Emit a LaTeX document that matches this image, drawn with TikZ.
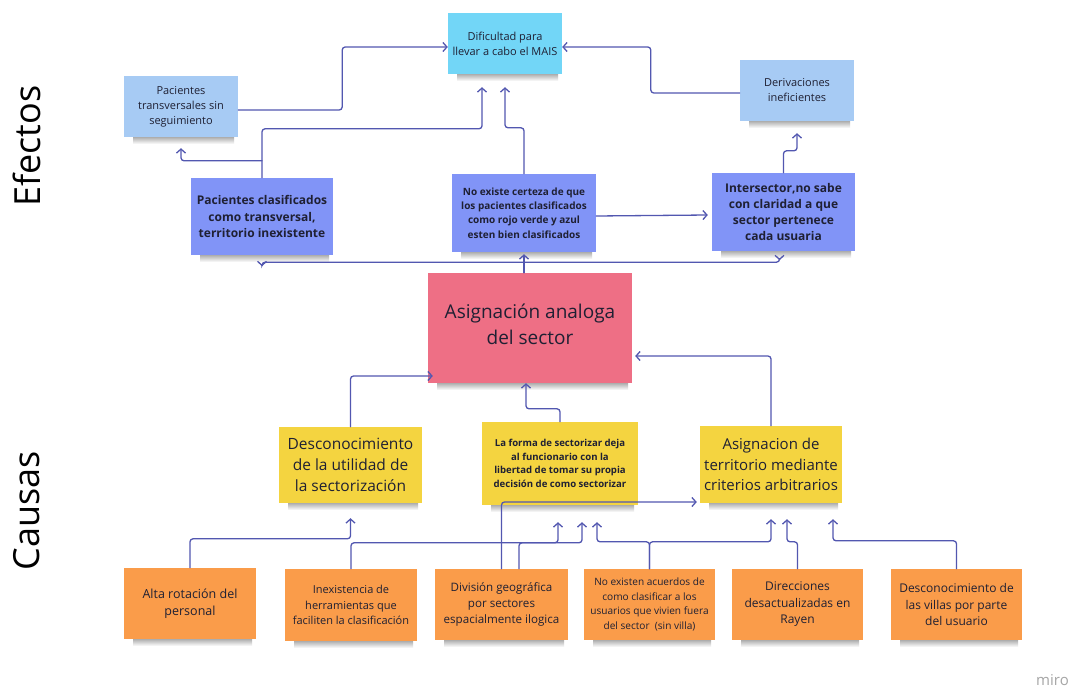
\documentclass[tikz,border=0pt]{standalone}
\usepackage{fontspec}
\setmainfont{Open Sans}
\usetikzlibrary{arrows.meta}
\definecolor{cyanc}{HTML}{72D6F7}
\definecolor{lblue}{HTML}{A7CBF4}
\definecolor{peri}{HTML}{8194F7}
\definecolor{pinkc}{HTML}{EE6F85}
\definecolor{yell}{HTML}{F4D440}
\definecolor{oran}{HTML}{FA9C4A}
\definecolor{arrowc}{HTML}{5257B0}
\definecolor{txt}{HTML}{1F2033}
\newcommand{\stickynote}[7]{%
  \shade[top color=black!32, bottom color=white] ({#2+9},{-#5}) rectangle ({#4-4},{-#5-7});
  \node[note, #6, minimum width={(#4-#2)*1pt}, minimum height={(#5-#3)*1pt}] (#1) at ({(#2+#4)/2},{-(#3+#5)/2}) {#7};
}
\begin{document}
\begin{tikzpicture}[x=1pt,y=1pt,
  note/.style={rectangle, inner sep=0pt, align=center, text=txt},
  conn/.style={draw=arrowc, line width=1.3pt, rounded corners=3pt, line cap=round},
  arr/.style={conn, -{Straight Barb[length=4pt,width=9pt]}},
  side/.style={rotate=90, text=black, font=\fontsize{36}{40}\selectfont}]
\useasboundingbox (0,0) rectangle (1072,-690);
\fill[white] (0,0) rectangle (1072,-690);

% side labels
\node[side] (efe) at (27,-146) {Efectos};
\node[side] (cau) at (27,-511) {Causas};

% effects
\stickynote{dif}{448}{13}{562}{74}{fill=cyanc, font=\fontsize{11}{15}\selectfont}{Dificultad para\\llevar a cabo el MAIS}
\stickynote{ptss}{124}{76}{238}{137}{fill=lblue, font=\fontsize{11}{15}\selectfont}{Pacientes\\transversales sin\\seguimiento}
\stickynote{der}{740}{60}{854}{121}{fill=lblue, font=\fontsize{11}{15}\selectfont}{Derivaciones\\ineficientes}
\stickynote{pcl}{191}{178}{333}{255}{fill=peri, font=\bfseries\fontsize{12}{16.5}\selectfont}{Pacientes clasificados\\como transversal,\\territorio inexistente}
\stickynote{nec}{452}{174}{596}{252}{fill=peri, font=\bfseries\fontsize{10}{14.3}\selectfont}{No existe certeza de que\\los pacientes clasificados\\como rojo verde y azul\\esten bien clasificados}
\stickynote{inter}{712}{173}{855}{251}{fill=peri, font=\bfseries\fontsize{12}{16.3}\selectfont}{Intersector,no sabe\\con claridad a que\\sector pertenece\\cada usuaria}

% central problem
\stickynote{asg}{428}{273}{632}{383}{fill=pinkc, font=\fontsize{19}{26}\selectfont}{Asignación analoga\\del sector\\[-18pt]\mbox{}}

% causes
\stickynote{des}{279}{427}{422}{503}{fill=yell, font=\fontsize{15.5}{21}\selectfont}{Desconocimiento\\de la utilidad de\\la sectorización}
\stickynote{lfo}{482}{422}{638}{505}{fill=yell, font=\bfseries\fontsize{9.6}{13.7}\selectfont}{La forma de sectorizar deja\\al funcionario con la\\libertad de tomar su propia\\decisión de como sectorizar}
\stickynote{ater}{700}{426}{842}{503}{fill=yell, font=\fontsize{15}{20.4}\selectfont}{Asignacion de\\territorio mediante\\criterios arbitrarios}

\stickynote{alt}{124}{568}{256}{639}{fill=oran, font=\fontsize{12.5}{17}\selectfont}{Alta rotación del\\personal}
\stickynote{ine}{285}{569}{417}{641}{fill=oran, font=\fontsize{11}{15.3}\selectfont}{Inexistencia de\\herramientas que\\faciliten la clasificación}
\stickynote{div}{435}{569}{568}{640}{fill=oran, font=\fontsize{11.6}{16.3}\selectfont}{División geográfica\\por sectores\\espacialmente ilogica}
\stickynote{noe}{584}{569}{715}{640}{fill=oran, font=\fontsize{10.1}{14.4}\selectfont}{No existen acuerdos de\\como clasificar a los\\usuarios que vivien fuera\\del sector~~(sin villa)}
\stickynote{dir}{732}{569}{863}{640}{fill=oran, font=\fontsize{12}{16.5}\selectfont}{Direcciones\\desactualizadas en\\Rayen}
\stickynote{vil}{891}{569}{1022}{640}{fill=oran, font=\fontsize{12}{16.8}\selectfont}{Desconocimiento de\\las villas por parte\\del usuario}

% effect connectors
\draw[arr] ([yshift=-3.5pt]ptss.east) -- ++(104,0) |- ([yshift=-3.5pt]dif.west);
\draw[arr] ([yshift=-2.5pt]der.west) -- ++(-89,0) |- ([yshift=-3.5pt]dif.east);
\draw[arr] (pcl.north) -- ++(0,49) -| ([xshift=-23pt,yshift=-13pt]dif.south);
\draw[arr] ([yshift=17pt]pcl.north) -| ([yshift=-11pt]ptss.south);
\draw[arr] (nec.north) -- ++(0,46) -| ([yshift=-13pt]dif.south);
\draw[arr] ([yshift=-3pt]nec.east) -- ([xshift=-4pt,yshift=-3pt]inter.west);
\draw[arr] (inter.north) -- ++(0,22) -| ([yshift=-12pt]der.south);

% central problem to effects
\coordinate (hub) at ([yshift=-10pt]nec.south);
\draw[arr] (hub |- asg.north) -- ([yshift=-2pt]nec.south);
\draw[arr] (hub) -| ([yshift=-11pt]pcl.south);
\draw[arr] (hub) -| ([xshift=-4pt,yshift=-9pt]inter.south);

% causes to central problem
\draw[arr] (des.north) |- ([xshift=5pt,yshift=-48pt]asg.west);
\draw[arr] (lfo.north) -- ++(0,13) -| ([xshift=-4pt]asg.south);
\draw[arr] (ater.north) |- ([xshift=3pt,yshift=-28pt]asg.east);

% root causes
\draw[arr] (alt.north) -- ++(0,29) -| ([yshift=-15pt]des.south);
\draw[arr] (ine.north) -- ++(0,26) -| ([xshift=-2pt,yshift=-17pt]lfo.south);
\draw[arr] ([xshift=17.5pt]div.north) -- ++(0,26) -| ([xshift=22pt,yshift=-17pt]lfo.south);
\draw[arr] (div.north) |- ([xshift=-3pt,yshift=-37.5pt]ater.west);
\draw[arr] (noe.north) -- ++(0,27) -| ([xshift=37pt,yshift=-17pt]lfo.south);
\draw[arr] (noe.north) -- ++(0,27) -| ([yshift=-16pt]ater.south);
\draw[arr] (dir.north) -- ++(0,27) -| ([xshift=16pt,yshift=-16pt]ater.south);
\draw[arr] (vil.north) -- ++(0,28) -| ([xshift=62pt,yshift=-16pt]ater.south);

% watermark
\node[anchor=north west, inner sep=0pt, text=black!35, font=\fontsize{15}{18}\selectfont] (miro) at (1036,-674) {miro};
\end{tikzpicture}
\end{document}
